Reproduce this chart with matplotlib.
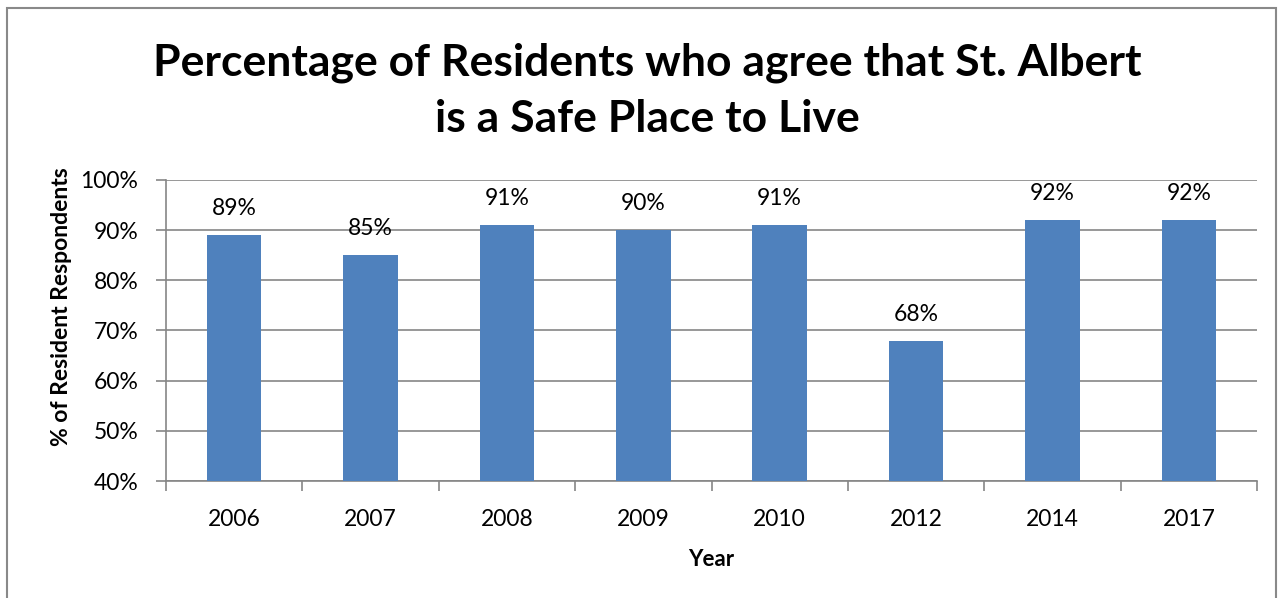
import matplotlib
matplotlib.use("Agg")
import matplotlib.pyplot as plt
from matplotlib.patches import Rectangle
from matplotlib.ticker import FixedLocator, NullFormatter

plt.rcParams['font.family'] = ['Lato', 'DejaVu Sans']

years = ['2006', '2007', '2008', '2009', '2010', '2012', '2014', '2017']
pct_safe = [89, 85, 91, 90, 91, 68, 92, 92]
y_ticks = [40, 50, 60, 70, 80, 90, 100]

bar_color = '#4F81BD'
grid_color = '#868686'

fig = plt.figure(figsize=(12.84, 5.98), dpi=100)
# axes box in figure pixels: x 166..1257, y 180..481
W, H = 1284, 598
ax = fig.add_axes([166 / W, 1 - 481 / H, (1257 - 166) / W, (481 - 180) / H])

x = list(range(len(years)))
bars = ax.bar(x, pct_safe, width=0.4, color=bar_color, zorder=3)
for b, v in zip(bars, pct_safe):
    ax.annotate(f'{v}%', (b.get_x() + b.get_width() / 2, v), xytext=(0, 19),
                textcoords='offset points', ha='center', va='center', fontsize=16.5)

ax.set_xlim(-0.5, len(years) - 0.5)
ax.set_ylim(40, 100)
ax.set_yticks(y_ticks)
ax.set_yticklabels([f'{t}%' for t in y_ticks], fontsize=16.5)
ax.yaxis.grid(True, color=grid_color, linewidth=1.2, zorder=0)
ax.tick_params(axis='y', length=7, width=1.2, color=grid_color, pad=13)

# category labels centred, tick marks on category boundaries
ax.set_xticks(x)
ax.set_xticklabels(years, fontsize=16.5)
ax.tick_params(axis='x', which='major', length=0, pad=20)
ax.xaxis.set_minor_locator(FixedLocator([i - 0.5 for i in range(len(years) + 1)]))
ax.xaxis.set_minor_formatter(NullFormatter())
ax.tick_params(axis='x', which='minor', length=7, width=1.2, color=grid_color)

for side in ['top', 'right']:
    ax.spines[side].set_visible(False)
for side in ['left', 'bottom']:
    ax.spines[side].set_color(grid_color)
    ax.spines[side].set_linewidth(1.2)

ax.set_xlabel('Year', fontsize=16, fontweight='bold', labelpad=14)
ax.set_ylabel('% of Resident Respondents', fontsize=16.5, fontweight='bold')
ax.yaxis.set_label_coords(-0.086, 0.58)

fig.text(647 / W, 1 - 91 / H, 'Percentage of Residents who agree that St. Albert\nis a Safe Place to Live',
         ha='center', va='center', fontsize=32, fontweight='bold', linespacing=1.5)

# chart border
fig.patches.append(Rectangle((7 / W, -0.05), (1276 - 7) / W, 1 - 8 / H + 0.05,
                             transform=fig.transFigure, fill=False,
                             edgecolor='#898989', linewidth=1.5))

fig.savefig('out.png', dpi=100)
